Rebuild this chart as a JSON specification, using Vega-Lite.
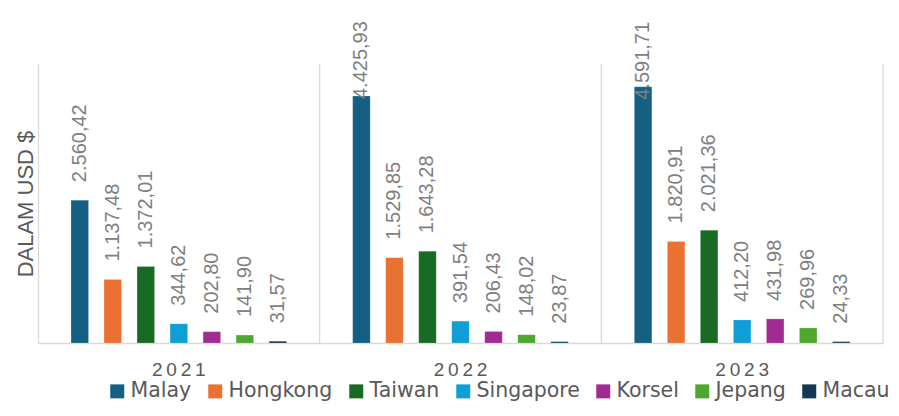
{
  "$schema": "https://vega.github.io/schema/vega-lite/v6.json",
  "width": 845,
  "height": 279,
  "autosize": {"type": "none"},
  "padding": {"left": 38, "top": 64, "right": 16, "bottom": 73},
  "background": "white",
  "config": {
    "view": {"stroke": null},
    "font": "Liberation Sans",
    "locale": {"number": {"decimal": ",", "thousands": ".", "grouping": [3], "currency": ["", ""]}}
  },
  "data": {
    "values": [
      {"year": "2021", "country": "Malay", "value": 2560.42},
      {"year": "2021", "country": "Hongkong", "value": 1137.48},
      {"year": "2021", "country": "Taiwan", "value": 1372.01},
      {"year": "2021", "country": "Singapore", "value": 344.62},
      {"year": "2021", "country": "Korsel", "value": 202.80},
      {"year": "2021", "country": "Jepang", "value": 141.90},
      {"year": "2021", "country": "Macau", "value": 31.57},
      {"year": "2022", "country": "Malay", "value": 4425.93},
      {"year": "2022", "country": "Hongkong", "value": 1529.85},
      {"year": "2022", "country": "Taiwan", "value": 1643.28},
      {"year": "2022", "country": "Singapore", "value": 391.54},
      {"year": "2022", "country": "Korsel", "value": 206.43},
      {"year": "2022", "country": "Jepang", "value": 148.02},
      {"year": "2022", "country": "Macau", "value": 23.87},
      {"year": "2023", "country": "Malay", "value": 4591.71},
      {"year": "2023", "country": "Hongkong", "value": 1820.91},
      {"year": "2023", "country": "Taiwan", "value": 2021.36},
      {"year": "2023", "country": "Singapore", "value": 412.20},
      {"year": "2023", "country": "Korsel", "value": 431.98},
      {"year": "2023", "country": "Jepang", "value": 269.96},
      {"year": "2023", "country": "Macau", "value": 24.33}
    ]
  },
  "encoding": {
    "x": {
      "field": "year", "type": "nominal",
      "scale": {"paddingInner": 0, "paddingOuter": 0},
      "axis": {
        "title": null, "labelAngle": 0, "ticks": false, "grid": false,
        "domainColor": "#d9d9d9", "domainWidth": 1.5,
        "labelFontSize": 19, "labelColor": "#595959", "labelPadding": 17,
        "labelExpr": "join(split(datum.label, ''), '\u2009')"
      }
    }
  },
  "layer": [
    {
      "mark": {"type": "bar", "stroke": "#ffffff", "strokeWidth": 0.3, "strokeOpacity": 0.6},
      "encoding": {
        "xOffset": {"field": "country", "type": "nominal", "sort": ["Malay", "Hongkong", "Taiwan", "Singapore", "Korsel", "Jepang", "Macau"], "scale": {"paddingInner": 0.47, "paddingOuter": 1.14}},
        "y": {
          "field": "value", "type": "quantitative",
          "scale": {"domain": [0, 5000]},
          "axis": {
            "labels": false, "ticks": false, "grid": false,
            "domainColor": "#d9d9d9", "domainWidth": 1.25,
            "title": "DALAM USD $", "titleFontSize": 22, "titleFontWeight": "normal",
            "titleColor": "#595959", "titlePadding": 1
          }
        },
        "color": {
          "field": "country", "type": "nominal",
          "sort": ["Malay", "Hongkong", "Taiwan", "Singapore", "Korsel", "Jepang", "Macau"],
          "scale": {
            "domain": ["Malay", "Hongkong", "Taiwan", "Singapore", "Korsel", "Jepang", "Macau"],
            "range": ["#156082", "#e97132", "#196b24", "#0f9ed5", "#a02b93", "#4ea72e", "#0e3a52"]
          },
          "legend": {
            "orient": "none", "legendX": 69, "legendY": 317, "direction": "horizontal", "columns": 7,
            "title": null, "symbolType": "square", "symbolSize": 196, "symbolStrokeWidth": 0,
            "labelFont": "DejaVu Sans", "labelFontSize": 20.5, "labelColor": "#595959",
            "columnPadding": 13, "labelOffset": 3
          }
        }
      }
    },
    {
      "transform": [{"filter": "datum.value < 4000"}],
      "mark": {"type": "text", "angle": 270, "align": "left", "baseline": "middle", "dx": 18, "fontSize": 20, "color": "#808080"},
      "encoding": {
        "xOffset": {"field": "country", "type": "nominal", "sort": ["Malay", "Hongkong", "Taiwan", "Singapore", "Korsel", "Jepang", "Macau"]},
        "y": {"field": "value", "type": "quantitative"},
        "text": {"field": "value", "type": "quantitative", "format": ",.2f"}
      }
    },
    {
      "transform": [{"filter": "datum.value > 4000 && datum.year == '2022'"}],
      "mark": {"type": "text", "angle": 270, "align": "left", "baseline": "middle", "dx": -3, "fontSize": 20, "color": "#808080"},
      "encoding": {
        "xOffset": {"field": "country", "type": "nominal", "sort": ["Malay", "Hongkong", "Taiwan", "Singapore", "Korsel", "Jepang", "Macau"]},
        "y": {"field": "value", "type": "quantitative"},
        "text": {"field": "value", "type": "quantitative", "format": ",.2f"}
      }
    },
    {
      "transform": [{"filter": "datum.value > 4000 && datum.year == '2023'"}],
      "mark": {"type": "text", "angle": 270, "align": "left", "baseline": "middle", "dx": -13, "fontSize": 20, "color": "#808080"},
      "encoding": {
        "xOffset": {"field": "country", "type": "nominal", "sort": ["Malay", "Hongkong", "Taiwan", "Singapore", "Korsel", "Jepang", "Macau"]},
        "y": {"field": "value", "type": "quantitative"},
        "text": {"field": "value", "type": "quantitative", "format": ",.2f"}
      }
    },
    {
      "data": {"values": [{"year": "2021"}, {"year": "2022"}, {"year": "2023"}]},
      "mark": {"type": "rule", "color": "#d9d9d9", "strokeWidth": 1.25},
      "encoding": {
        "x": {"field": "year", "type": "nominal", "bandPosition": 1}
      }
    }
  ]
}
